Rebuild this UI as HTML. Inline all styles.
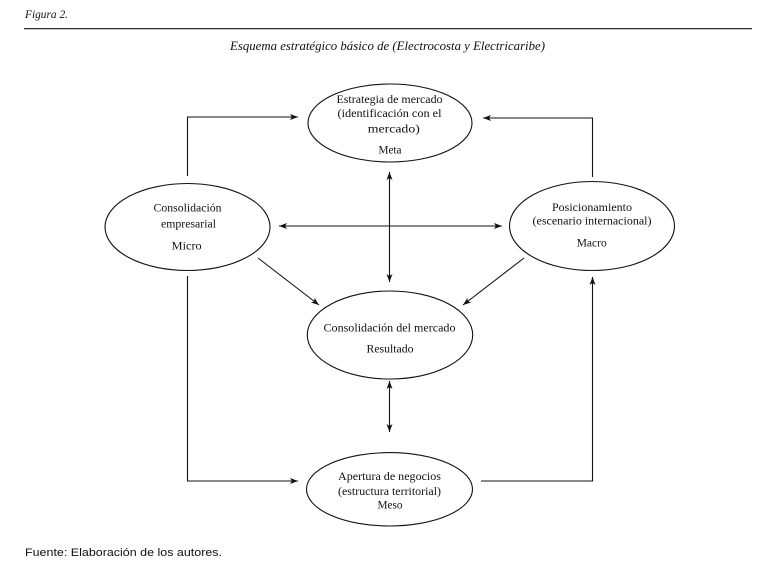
<!DOCTYPE html>
<html><head><meta charset="utf-8"><style>
html,body{margin:0;padding:0;background:#fff;}
svg{display:block;}
</style></head><body>
<svg width="772" height="573" viewBox="0 0 772 573" xmlns="http://www.w3.org/2000/svg">
<defs>
<marker id="ah" markerUnits="userSpaceOnUse" markerWidth="10" markerHeight="8" refX="8" refY="3" orient="auto-start-reverse">
<path d="M0,0 L8,3 L0,6 L2,3 Z" fill="#111"/>
</marker>
</defs>
<rect width="772" height="573" fill="#fff"/>
<text x="25" y="18" font-family="Liberation Serif, serif" font-style="italic" font-size="11.5" fill="#111" textLength="43" lengthAdjust="spacingAndGlyphs">Figura 2.</text>
<line x1="24" y1="28.7" x2="752" y2="28.7" stroke="#111" stroke-width="1.2"/>
<text x="230" y="50" font-family="Liberation Serif, serif" font-style="italic" font-size="12.5" fill="#111" textLength="315" lengthAdjust="spacingAndGlyphs">Esquema estratégico básico de (Electrocosta y Electricaribe)</text>

<g fill="none" stroke="#111" stroke-width="1.1">
<ellipse cx="390" cy="123" rx="82" ry="39"/>
<ellipse cx="187.5" cy="227" rx="82.5" ry="43.5"/>
<ellipse cx="592" cy="226" rx="82.5" ry="44.5"/>
<ellipse cx="390" cy="335" rx="82.7" ry="44"/>
<ellipse cx="389.5" cy="489.3" rx="83" ry="36.7"/>
</g>

<g fill="none" stroke="#111" stroke-width="1.1">
<polyline points="187.5,176 187.5,117 298,117" marker-end="url(#ah)"/>
<polyline points="592.5,177 592.5,118 483,118" marker-end="url(#ah)"/>
<line x1="279" y1="226" x2="502" y2="226" marker-start="url(#ah)" marker-end="url(#ah)"/>
<line x1="389.5" y1="172" x2="389.5" y2="282" marker-start="url(#ah)" marker-end="url(#ah)"/>
<line x1="258" y1="258" x2="319" y2="305" marker-end="url(#ah)"/>
<line x1="524" y1="258" x2="463" y2="305" marker-end="url(#ah)"/>
<line x1="389.5" y1="381" x2="389.5" y2="432" marker-start="url(#ah)" marker-end="url(#ah)"/>
<polyline points="187.5,276 187.5,481 298,481" marker-end="url(#ah)"/>
<polyline points="481,481 592.5,481 592.5,277" marker-end="url(#ah)"/>
</g>

<g font-family="Liberation Serif, serif" font-size="11.5" fill="#111" text-anchor="middle" lengthAdjust="spacingAndGlyphs">
<text x="389.5" y="103" textLength="106" lengthAdjust="spacingAndGlyphs">Estrategia de mercado</text>
<text x="389.5" y="117" textLength="104" lengthAdjust="spacingAndGlyphs">(identificación con el</text>
<text x="393.8" y="132.5" textLength="52" lengthAdjust="spacingAndGlyphs">mercado)</text>
<text x="390" y="153.5" textLength="23" lengthAdjust="spacingAndGlyphs">Meta</text>

<text x="187.5" y="211.5" textLength="68" lengthAdjust="spacingAndGlyphs">Consolidación</text>
<text x="188.5" y="227.5" textLength="55" lengthAdjust="spacingAndGlyphs">empresarial</text>
<text x="186.7" y="249.5" textLength="30" lengthAdjust="spacingAndGlyphs">Micro</text>

<text x="592" y="211" textLength="80" lengthAdjust="spacingAndGlyphs">Posicionamiento</text>
<text x="592" y="224.5" textLength="119" lengthAdjust="spacingAndGlyphs">(escenario internacional)</text>
<text x="591.7" y="246.5" textLength="30" lengthAdjust="spacingAndGlyphs">Macro</text>

<text x="389.5" y="331.5" textLength="132" lengthAdjust="spacingAndGlyphs">Consolidación del mercado</text>
<text x="390" y="352.5" textLength="47" lengthAdjust="spacingAndGlyphs">Resultado</text>

<text x="389.5" y="480" textLength="103" lengthAdjust="spacingAndGlyphs">Apertura de negocios</text>
<text x="389.5" y="495" textLength="103" lengthAdjust="spacingAndGlyphs">(estructura territorial)</text>
<text x="390" y="508.5" textLength="25" lengthAdjust="spacingAndGlyphs">Meso</text>
</g>

<text x="25" y="556" font-family="Liberation Sans, sans-serif" font-size="11" fill="#111" textLength="197" lengthAdjust="spacingAndGlyphs">Fuente: Elaboración de los autores.</text>
</svg>
</body></html>
